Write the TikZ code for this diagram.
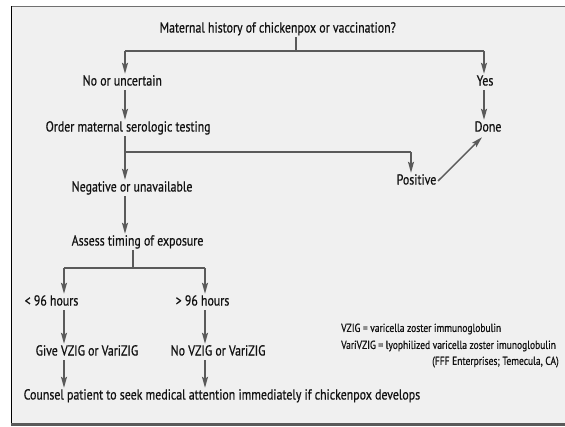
\documentclass[tikz,border=0pt]{standalone}
\usepackage{fontspec}
\setmainfont[FakeStretch=0.82,FakeBold=0.6]{PT Sans}
\usetikzlibrary{arrows.meta,calc}
\definecolor{bg}{HTML}{F0F0F0}
\definecolor{ln}{HTML}{5A5A5A}
\definecolor{tx}{HTML}{111111}
\definecolor{topln}{HTML}{707070}
\begin{document}
\begin{tikzpicture}[x=1pt,y=-1pt,
  lbl/.style={inner sep=1.5pt, text height=10pt, text depth=3pt, anchor=west,
    font=\fontsize{14.5}{16}\selectfont, text=tx},
  ttl/.style={lbl},
  leg/.style={inner sep=0pt, anchor=west, font=\fontsize{11.6}{13}\selectfont, text=tx},
  conn/.style={draw=ln, line width=2pt},
  arr/.style={draw=ln, line width=1.5pt, -{Stealth[length=11pt,width=6pt,inset=2pt]}}]
\clip (0,0) rectangle (565,426);
\fill[white] (0,0) rectangle (565,426);
\fill[bg] (11,6) rectangle (565,423);
\draw[topln, line width=1.5pt] (11,6.5) -- (565,6.5);
\draw[black, line width=1.3pt] (11.6,6) -- (11.6,423);
\fill[ln] (11,423) rectangle (565,426);

% columns
\coordinate (cT) at (296,0);
\coordinate (cL) at (125,0);
\coordinate (cR) at (484,0);
\coordinate (cP) at (411,0);
\coordinate (cA) at (133,0);
\coordinate (c1) at (64,0);
\coordinate (c2) at (205,0);

% nodes
\node[ttl] (title) at (158,29) {Maternal history of chickenpox or vaccination?};
\node[lbl] (no) at (81,82) {No or uncertain};
\node[lbl] (yes) at (475,82) {Yes};
\node[lbl] (order) at (44,128) {Order maternal serologic testing};
\node[lbl] (done) at (473,128) {Done};
\node[lbl] (pos) at (395,181) {Positive};
\node[lbl] (neg) at (70,188) {Negative or unavailable};
\node[lbl] (assess) at (70,242) {Assess timing of exposure};
\node[lbl] (lt) at (23,302) {< 96 hours};
\node[lbl] (gt) at (174,302) {> 96 hours};
\node[lbl] (give) at (34,352) {Give VZIG or VariZIG};
\node[lbl] (novz) at (169,352) {No VZIG or VariZIG};
\node[lbl] (counsel) at (22,396) {Counsel patient to seek medical attention immediately if chickenpox develops};
\node[leg] (l1) at (341,329) {VZIG = varicella zoster immunoglobulin};
\node[leg] (l2) at (341,346) {VariVZIG = lyophilized varicella zoster imunoglobulin};
\node[leg] (l3) at (432,362) {(FFF Enterprises; Temecula, CA)};

% junctions
\coordinate (j1) at (296,51);
\coordinate (j2) at (125,152);
\coordinate (j3) at (133,268);

% connectors
\draw[conn] (title.south -| cT) -- (j1);
\draw[conn] (j1 -| cL) -- (j1 -| cR);
\draw[arr] (j1 -| cL) -- (no.north -| cL);
\draw[arr] (j1 -| cR) -- (yes.north -| cR);
\draw[arr] (no.south -| cL) -- (order.north -| cL);
\draw[arr] (yes.south -| cR) -- (done.north -| cR);
\draw[conn] (order.south -| cL) -- (j2);
\draw[arr] (j2) -- (neg.north -| cL);
\draw[conn] (j2) -- (j2 -| cP);
\draw[arr] (j2 -| cP) -- (pos.north -| cP);
\draw[arr] (pos.east) -- ($(done.south -| cR)+(-2,1)$);
\draw[arr] (neg.south -| cL) -- (assess.north -| cL);
\draw[conn] (assess.south -| cA) -- (j3);
\draw[conn] (j3 -| c1) -- (j3 -| c2);
\draw[arr] (j3 -| c1) -- (lt.north -| c1);
\draw[arr] (j3 -| c2) -- (gt.north -| c2);
\draw[arr] (lt.south -| c1) -- (give.north -| c1);
\draw[arr] (gt.south -| c2) -- (novz.north -| c2);
\draw[arr] (give.south -| c1) -- (counsel.north -| c1);
\draw[arr] (novz.south -| c2) -- (counsel.north -| c2);
\end{tikzpicture}
\end{document}
